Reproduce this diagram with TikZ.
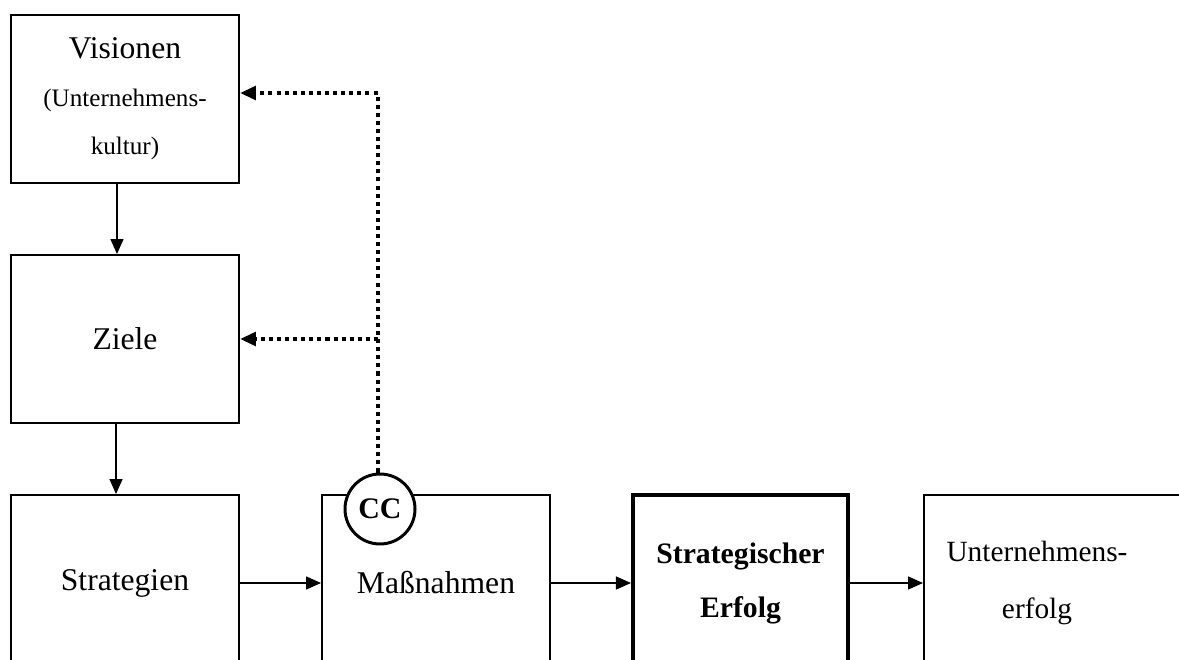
\documentclass[tikz,border=0pt]{standalone}
\usepackage{fontspec}
\setmainfont{Liberation Serif}
\usetikzlibrary{arrows.meta,positioning}

\begin{document}
\begin{tikzpicture}[
	box/.style={draw, line width=1.1pt, minimum width=4.56cm, minimum height=3.36cm, align=center, font=\fontsize{18}{27.3}\selectfont},
	lowbox/.style={box, minimum height=3.52cm},
	arr/.style={-{Triangle[length=0.3cm,width=0.26cm]}, line width=0.8pt},
	fb/.style={-{Triangle[length=0.32cm,width=0.27cm]}, line width=2.3pt, dash pattern=on 2.3pt off 2.3pt}]
		\useasboundingbox (0,0) rectangle (23.58,-13.2);
		\clip (0,0) rectangle (23.58,-13.2);
		\node[box] (vis) at (2.5,-1.98) {Visionen\\{\fontsize{14.3}{27.3}\selectfont (Unternehmens-}\\{\fontsize{14.3}{27.3}\selectfont kultur)}};
		\node[box] (ziele) at (2.5,-6.78) {Ziele};
		\node[lowbox] (strat) at (2.5,-11.66) {Strategien};
		\node[lowbox] (mass) at (8.72,-11.66) {Maßnahmen};
		\node[lowbox, line width=2.3pt, minimum width=4.3cm, font=\fontsize{16.9}{30.7}\selectfont\bfseries] (erfolg) at (14.81,-11.66) {Strategischer\\Erfolg};
		\node[lowbox, minimum width=5.6cm, anchor=west] (ue) at (18.46,-11.66) {};
		\node[align=center, font=\fontsize{16.7}{31.9}\selectfont] (uetext) at (20.74,-11.66) {Unternehmens-\\erfolg};
		\node[circle, draw, fill=white, line width=1.7pt, minimum size=1.4cm, inner sep=0pt, font=\fontsize{17}{17}\selectfont\bfseries] (cc) at (7.6,-10.18) {CC};
		\coordinate (knick) at (7.56,-1.86);
		\draw[arr] ([xshift=-0.16cm]vis.south) -- ([xshift=-0.16cm]ziele.north);
		\draw[arr] ([xshift=-0.18cm]ziele.south) -- ([xshift=-0.18cm]strat.north);
		\draw[arr] (strat) -- (mass);
		\draw[arr] (mass) -- (erfolg);
		\draw[arr] (erfolg) -- (ue);
		\draw[fb] (cc.north -| knick) -- (knick) -- (vis.east |- knick);
		\draw[fb] (ziele.east -| knick) -- (ziele.east);
	\end{tikzpicture}
\end{document}
